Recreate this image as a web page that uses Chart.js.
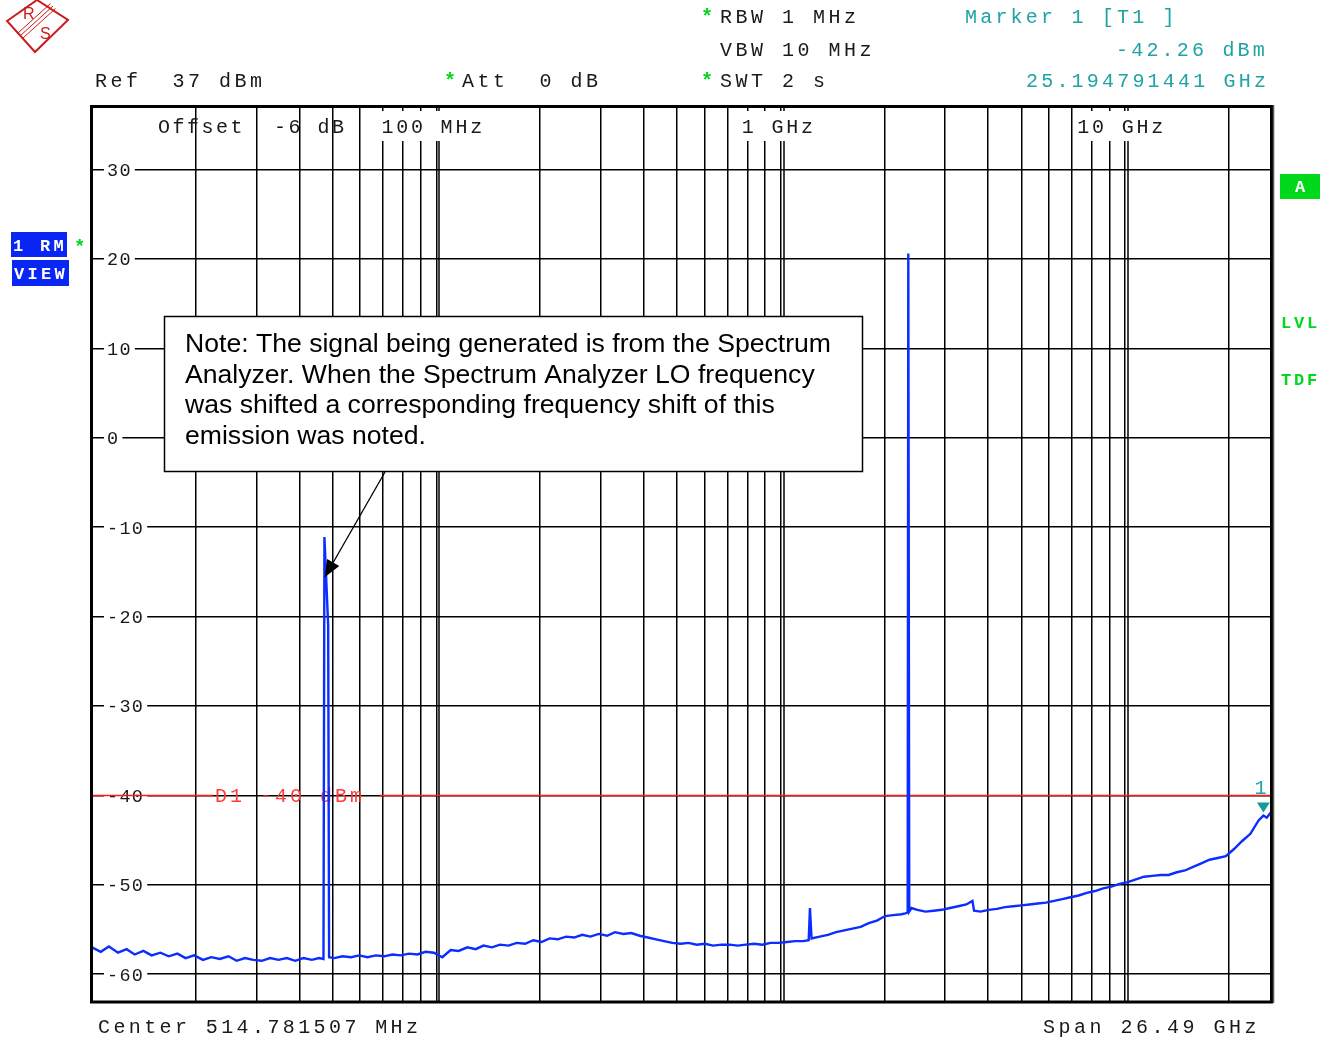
<!DOCTYPE html>
<html>
<head>
<meta charset="utf-8">
<script src="https://cdn.jsdelivr.net/npm/chart.js@4.4.1/dist/chart.umd.min.js"></script>
<style>
  html, body { margin: 0; padding: 0; background: #fff; }
  #wrap { position: relative; width: 1332px; height: 1040px; }
</style>
</head>
<body>
<div id="wrap"><canvas id="spectrum"></canvas></div>
<script>
// trace (frequency in MHz, level in dBm)
const freqMHz = [
  10, 10.6, 11.2, 11.9, 12.6, 13.3, 14.1, 14.9, 15.8, 16.7,
  17.7, 18.7, 19.8, 21.0, 22.2, 23.5, 24.9, 26.3, 27.8, 29.4,
  31.1, 32.9, 34.8, 36.8, 38.9, 41.1, 43.5, 45.6, 47.0, 47.3,
  48.5, 48.8, 50.5, 53.4, 56.5, 59.7, 63.1, 66.7, 70.5, 74.5,
  78.8, 83.3, 88.0, 93.0, 98.3, 104, 110, 116, 123, 130,
  137, 145, 153, 162, 171, 181, 191, 202, 213, 225,
  238, 251, 265, 280, 296, 313, 330, 349, 368, 389,
  411, 434, 458, 484, 511, 540, 570, 602, 636, 672,
  710, 750, 792, 837, 884, 934, 986, 1042, 1100, 1162,
  1205, 1215, 1228, 1297, 1370, 1447, 1528, 1614, 1705, 1800,
  1901, 2008, 2121, 2240, 2300, 2335, 2345, 2360, 2395, 2490,
  2630, 2778, 2934, 3099, 3273, 3457, 3600, 3640, 3800, 4013,
  4239, 4477, 4729, 4995, 5275, 5572, 5885, 6216, 6565, 6934,
  7324, 7735, 8170, 8629, 9114, 9626, 10167, 10738, 11342, 11979,
  12652, 13363, 14114, 14907, 15745, 16630, 17564, 18551, 19594, 20695,
  21858, 23086, 24384, 25190, 25750, 26500
];
const levelDbm = [
  -57.0, -57.5, -56.9, -57.6, -57.2, -57.8, -57.4, -57.9, -57.6, -58.0,
  -57.7, -58.2, -57.9, -58.4, -58.1, -58.3, -58.0, -58.5, -58.2, -58.4,
  -58.5, -58.2, -58.4, -58.2, -58.5, -58.2, -58.4, -58.2, -58.3, -11.1,
  -21.0, -58.1, -58.2, -58.0, -58.1, -57.9, -58.1, -57.9, -58.0, -57.8,
  -57.9, -57.7, -57.8, -57.5, -57.6, -58.1, -57.3, -57.4, -57.0, -57.2,
  -56.8, -57.0, -56.7, -56.8, -56.5, -56.6, -56.2, -56.4, -56.0, -56.1,
  -55.8, -55.9, -55.6, -55.8, -55.5, -55.7, -55.3, -55.5, -55.4, -55.7,
  -55.9, -56.1, -56.3, -56.5, -56.6, -56.5, -56.7, -56.6, -56.8, -56.7,
  -56.7, -56.8, -56.7, -56.6, -56.7, -56.5, -56.5, -56.4, -56.3, -56.3,
  -56.2, -52.6, -56.0, -55.8, -55.6, -55.3, -55.1, -54.9, -54.7, -54.3,
  -54.0, -53.5, -53.4, -53.3, -53.2, -53.1, 20.6, -53.0, -52.6, -52.8,
  -53.0, -52.9, -52.8, -52.6, -52.4, -52.2, -51.8, -52.9, -53.0, -52.8,
  -52.7, -52.5, -52.4, -52.3, -52.2, -52.1, -52.0, -51.8, -51.6, -51.4,
  -51.2, -50.9, -50.7, -50.4, -50.2, -49.9, -49.7, -49.4, -49.1, -49.0,
  -48.9, -48.9, -48.6, -48.4, -48.0, -47.6, -47.2, -47.0, -46.8, -46.0,
  -45.1, -44.3, -42.8, -42.26, -42.5, -41.9
];

// axes
const gridFreqMHz = [
  20, 30, 40, 50, 60, 70, 80, 90,
  100, 200, 300, 400, 500, 600, 700, 800, 900,
  1000, 2000, 3000, 4000, 5000, 6000, 7000, 8000, 9000,
  10000, 20000
];
const decadeFreqMHz = [100, 1000, 10000];
const decadeLabels = ['100 MHz', '1 GHz', '10 GHz'];
const levelTicks = [30, 20, 10, 0, -10, -20, -30, -40, -50, -60];

// display line and marker
const displayLine = -40;
const displayLineLabel = 'D1 -40 dBm';
const markerFreq = 25190;
const markerLevel = -42.26;

// annotation
const noteLines = [
  'Note: The signal being generated is from the Spectrum',
  'Analyzer. When the Spectrum Analyzer LO frequency',
  'was shifted a corresponding frequency shift of this',
  'emission was noted.'
];
const noteTarget = { freq: 47.4, level: -15.6 };

const MONO = '"Liberation Mono", "DejaVu Sans Mono", monospace';
const TEAL = '#1fa3a3';
const GREEN = '#00d81c';
const BLUE_BOX = '#0a26f5';
const INK = '#1a1a1a';

function monoText(ctx, text, x, y, pitch, size, color, bold) {
  ctx.save();
  ctx.font = (bold ? 'bold ' : '') + size + 'px ' + MONO;
  ctx.fillStyle = color;
  ctx.textAlign = 'left';
  ctx.textBaseline = 'alphabetic';
  for (let i = 0; i < text.length; i++) {
    ctx.fillText(text[i], x + i * pitch, y);
  }
  ctx.restore();
}

function line(ctx, x1, y1, x2, y2) {
  ctx.beginPath();
  ctx.moveTo(x1, y1);
  ctx.lineTo(x2, y2);
  ctx.stroke();
}

const screenDecor = {
  id: 'screenDecor',

  beforeDatasetsDraw(chart) {
    const { ctx, chartArea: a } = chart;
    const xs = chart.scales.x;
    const ys = chart.scales.y;
    ctx.save();

    // decade lines are doubled on the screen
    ctx.strokeStyle = '#000';
    ctx.lineWidth = 1.5;
    decadeFreqMHz.forEach((f) => {
      const px = Math.round(xs.getPixelForValue(f)) + 3;
      line(ctx, px, a.top, px, a.bottom);
    });

    // decade labels sit on a white patch that cuts the grid
    const labelOffsets = [-55, -39, -48];
    const labelWidths = [110, 82, 98];
    decadeFreqMHz.forEach((f, i) => {
      const px = xs.getPixelForValue(f);
      const x0 = px + labelOffsets[i];
      ctx.fillStyle = '#fff';
      ctx.fillRect(x0 - 2, a.top + 4, labelWidths[i], 30);
      monoText(ctx, decadeLabels[i], x0, a.top + 26, 14.8, 20, INK);
    });
    monoText(ctx, 'Offset  -6 dB', 158, a.top + 26, 14.5, 20, INK);

    // level labels inside the grid
    levelTicks.forEach((v) => {
      const py = ys.getPixelForValue(v);
      const txt = String(v);
      ctx.fillStyle = '#fff';
      ctx.fillRect(a.left + 12, py - 8, txt.length * 12.4 + 6, 16);
      monoText(ctx, txt, a.left + 15, py + 6.5, 12.4, 18.5, INK);
    });

    // display line D1
    const dy = Math.round(ys.getPixelForValue(displayLine)) + 0.5;
    const labelX = a.left + 123;
    const labelEnd = labelX + (displayLineLabel.length + 1) * 15;
    ctx.strokeStyle = '#ff1a1a';
    ctx.lineWidth = 1.5;
    line(ctx, a.left, dy, labelX - 2, dy);
    line(ctx, labelEnd, dy, a.right, dy);
    monoText(ctx, displayLineLabel, labelX, dy + 6.5, 15, 20, '#ff3b3b');

    ctx.restore();
  },

  afterDatasetsDraw(chart) {
    const { ctx } = chart;
    const xs = chart.scales.x;
    const ys = chart.scales.y;
    ctx.save();

    // marker 1
    const mx = xs.getPixelForValue(markerFreq);
    const my = ys.getPixelForValue(markerLevel);
    ctx.fillStyle = '#149a9a';
    ctx.beginPath();
    ctx.moveTo(mx - 6.5, my - 13);
    ctx.lineTo(mx + 6.5, my - 13);
    ctx.lineTo(mx, my - 3);
    ctx.closePath();
    ctx.fill();
    monoText(ctx, '1', mx - 9, my - 22, 15, 20, TEAL);

    // note box
    ctx.fillStyle = '#fff';
    ctx.fillRect(164, 316, 698, 155);
    ctx.strokeStyle = '#000';
    ctx.lineWidth = 1.5;
    ctx.strokeRect(164.5, 316.5, 698, 155);
    ctx.fillStyle = '#000';
    ctx.font = '26.6px "Liberation Sans", Arial, sans-serif';
    ctx.textBaseline = 'alphabetic';
    noteLines.forEach((t, i) => ctx.fillText(t, 185, 352 + i * 30.6));

    // arrow to the first spike
    const tx = xs.getPixelForValue(noteTarget.freq);
    const ty = ys.getPixelForValue(noteTarget.level);
    const sx = 385;
    const sy = 472;
    const ang = Math.atan2(ty - sy, tx - sx);
    const head = 17;
    const half = 7;
    const bx = tx - head * Math.cos(ang);
    const by = ty - head * Math.sin(ang);
    ctx.lineWidth = 1.3;
    line(ctx, sx, sy, bx, by);
    ctx.beginPath();
    ctx.moveTo(tx, ty);
    ctx.lineTo(bx + half * Math.sin(ang), by - half * Math.cos(ang));
    ctx.lineTo(bx - half * Math.sin(ang), by + half * Math.cos(ang));
    ctx.closePath();
    ctx.fill();

    ctx.restore();
  },

  afterDraw(chart) {
    const { ctx, chartArea: a } = chart;
    ctx.save();

    // screen frame
    ctx.strokeStyle = '#000';
    ctx.lineWidth = 3;
    ctx.strokeRect(a.left - 0.5, a.top - 0.5, a.right - a.left + 1, a.bottom - a.top + 1.5);
    ctx.lineWidth = 1.5;
    ctx.strokeStyle = '#555';
    line(ctx, a.right + 2.5, a.top - 2, a.right + 2.5, a.bottom + 2);

    // R&S logo
    ctx.strokeStyle = '#cc1a1a';
    ctx.lineWidth = 2;
    ctx.beginPath();
    ctx.moveTo(7, 21);
    ctx.lineTo(37, 0);
    ctx.lineTo(68, 20);
    ctx.lineTo(35, 52);
    ctx.closePath();
    ctx.stroke();
    ctx.lineWidth = 1;
    [-2.5, 0, 2.5].forEach((o) => line(ctx, 20 + o, 36 + o, 53 + o, 6 + o));
    ctx.fillStyle = '#cc1a1a';
    ctx.font = '16px "Liberation Sans", Arial, sans-serif';
    ctx.fillText('R', 23, 19);
    ctx.fillText('S', 40, 39);

    // header
    monoText(ctx, '*', 701, 23, 15.5, 20, GREEN, true);
    monoText(ctx, 'RBW 1 MHz', 720, 23, 15.5, 20, INK);
    monoText(ctx, 'VBW 10 MHz', 720, 56, 15.5, 20, INK);
    monoText(ctx, '*', 701, 87, 15.5, 20, GREEN, true);
    monoText(ctx, 'SWT 2 s', 720, 87, 15.5, 20, INK);
    monoText(ctx, 'Ref  37 dBm', 95, 87, 15.5, 20, INK);
    monoText(ctx, '*', 444, 87, 15.5, 20, GREEN, true);
    monoText(ctx, 'Att  0 dB', 462, 87, 15.5, 20, INK);
    monoText(ctx, 'Marker 1 [T1 ]', 965, 23, 15.2, 20, TEAL);
    monoText(ctx, '-42.26 dBm', 1116, 56, 15.2, 20, TEAL);
    monoText(ctx, '25.194791441 GHz', 1026, 87, 15.2, 20, TEAL);

    // trace status boxes
    ctx.fillStyle = BLUE_BOX;
    ctx.fillRect(11, 232, 56, 25);
    ctx.fillRect(12, 260, 57, 26);
    monoText(ctx, '1 RM', 13, 251, 13.5, 17, '#fff', true);
    monoText(ctx, 'VIEW', 14, 279, 13.5, 17, '#fff', true);
    monoText(ctx, '*', 74, 252, 13.5, 19, GREEN, true);

    ctx.fillStyle = GREEN;
    ctx.fillRect(1280, 174, 40, 25);
    monoText(ctx, 'A', 1295, 192, 13, 17, '#fff', true);
    monoText(ctx, 'LVL', 1281, 328, 13, 17, GREEN, true);
    monoText(ctx, 'TDF', 1281, 385, 13, 17, GREEN, true);

    // footer
    monoText(ctx, 'Center 514.781507 MHz', 98, 1033, 15.4, 20, INK);
    monoText(ctx, 'Span 26.49 GHz', 1043, 1033, 15.5, 20, INK);

    ctx.restore();
  }
};

const traceData = freqMHz.map((f, i) => ({ x: f, y: levelDbm[i] }));

new Chart(document.getElementById('spectrum'), {
  type: 'line',
  data: {
    datasets: [
      {
        label: '1 RM VIEW',
        data: traceData,
        borderColor: '#0b2dff',
        borderWidth: 2.4,
        pointRadius: 0,
        tension: 0,
        fill: false
      }
    ]
  },
  options: {
    responsive: true,
    maintainAspectRatio: false,
    devicePixelRatio: 1,
    animation: false,
    events: [],
    layout: {
      padding: { left: 92, top: 107, right: 61, bottom: 39 }
    },
    plugins: {
      legend: { display: false },
      tooltip: { enabled: false }
    },
    scales: {
      x: {
        type: 'logarithmic',
        min: 10,
        max: 26500,
        afterBuildTicks: (s) => { s.ticks = gridFreqMHz.map((v) => ({ value: v })); },
        afterFit: (s) => { s.height = 0; },
        ticks: { display: false },
        border: { display: false },
        grid: { color: '#000', lineWidth: 1.5, drawTicks: false }
      },
      y: {
        type: 'linear',
        min: -63,
        max: 37,
        afterBuildTicks: (s) => { s.ticks = levelTicks.map((v) => ({ value: v })); },
        afterFit: (s) => { s.width = 0; },
        ticks: { display: false },
        border: { display: false },
        grid: { color: '#000', lineWidth: 1.5, drawTicks: false }
      }
    }
  },
  plugins: [screenDecor]
});
</script>
</body>
</html>
